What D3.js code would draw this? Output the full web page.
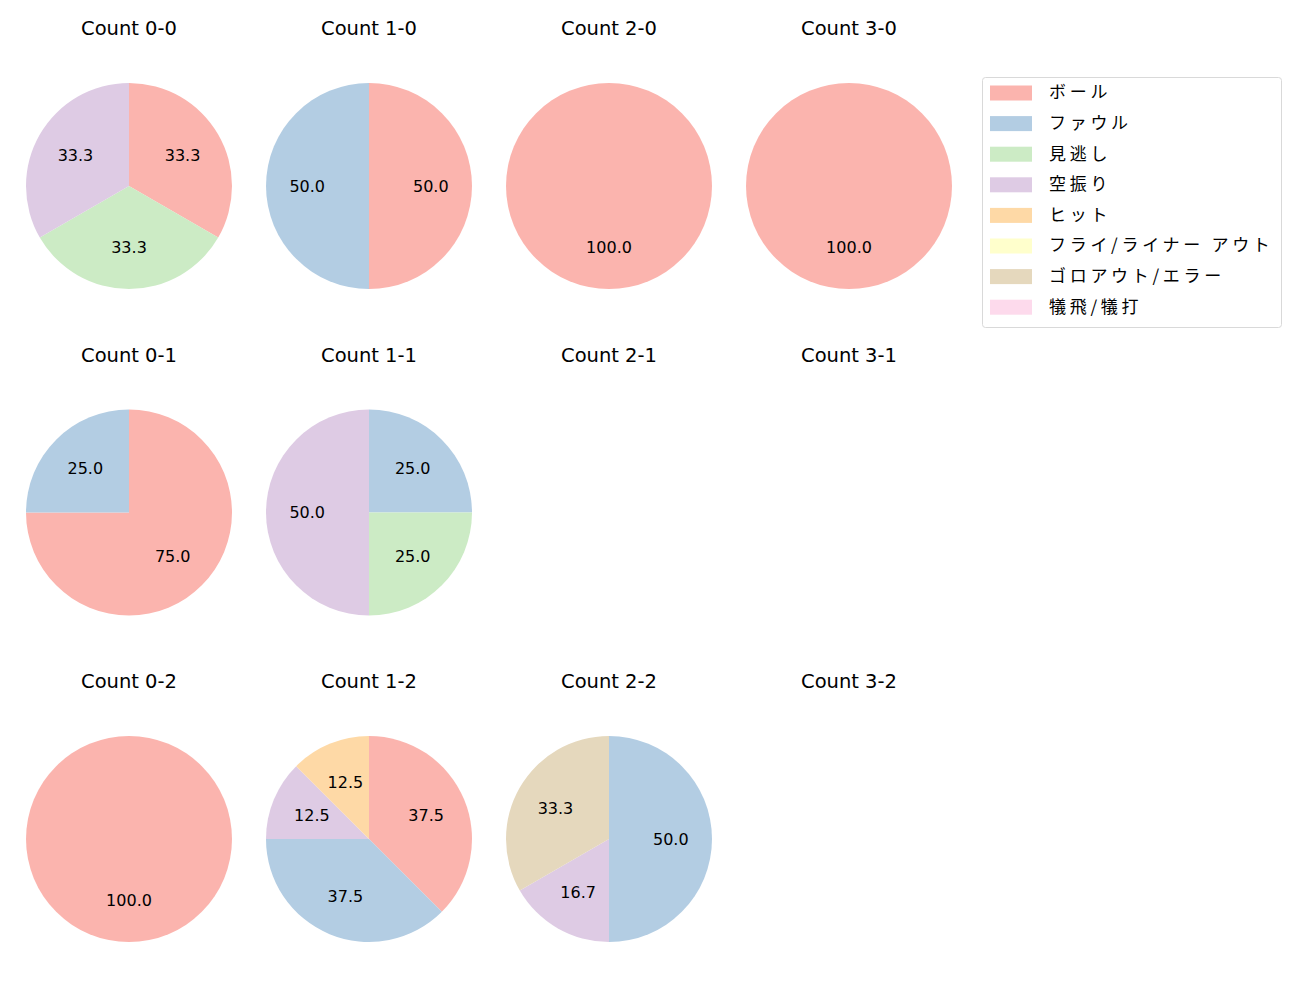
<!DOCTYPE html>
<html lang="ja">
<head>
<meta charset="utf-8">
<title>Count pies</title>
<style>
  body { margin: 0; background: #fff; }
  text { font-family: "DejaVu Sans", "Noto Sans CJK JP", sans-serif; fill: #000; }
  .legend-label { font-family: "Noto Sans CJK JP", sans-serif; letter-spacing: 3.7px; }
</style>
</head>
<body>
<div id="chart"></div>
<script src="https://d3js.org/d3.v7.min.js"></script>
<script>
var width = 1300,
    height = 1000;

// categories (legend order)
var categories = ["ボール", "ファウル", "見逃し", "空振り", "ヒット", "フライ/ライナー アウト", "ゴロアウト/エラー", "犠飛/犠打"];
var colors = ["#fbb4ae", "#b3cde3", "#ccebc5", "#decbe4", "#fed9a6", "#ffffcc", "#e5d8bd", "#fddaec"];

// counts per ball-strike situation, in category order
var balls = [0, 1, 2, 3];
var strikes = [0, 1, 2];
var count_0_0 = [1, 0, 1, 1, 0, 0, 0, 0];
var count_1_0 = [1, 1, 0, 0, 0, 0, 0, 0];
var count_2_0 = [1, 0, 0, 0, 0, 0, 0, 0];
var count_3_0 = [1, 0, 0, 0, 0, 0, 0, 0];
var count_0_1 = [3, 1, 0, 0, 0, 0, 0, 0];
var count_1_1 = [0, 1, 1, 2, 0, 0, 0, 0];
var count_2_1 = [0, 0, 0, 0, 0, 0, 0, 0];
var count_3_1 = [0, 0, 0, 0, 0, 0, 0, 0];
var count_0_2 = [1, 0, 0, 0, 0, 0, 0, 0];
var count_1_2 = [3, 3, 0, 1, 1, 0, 0, 0];
var count_2_2 = [0, 3, 0, 1, 0, 0, 2, 0];
var count_3_2 = [0, 0, 0, 0, 0, 0, 0, 0];

var counts = {
  "0-0": count_0_0, "1-0": count_1_0, "2-0": count_2_0, "3-0": count_3_0,
  "0-1": count_0_1, "1-1": count_1_1, "2-1": count_2_1, "3-1": count_3_1,
  "0-2": count_0_2, "1-2": count_1_2, "2-2": count_2_2, "3-2": count_3_2
};

var svg = d3.select("#chart").append("svg")
    .attr("width", width)
    .attr("height", height);

var radius = 103;
var colX = d3.scalePoint().domain(balls).range([129, 849]);
var rowY = d3.scalePoint().domain(strikes).range([186, 839]);

var pie = d3.pie()
    .sort(null)
    .value(function(d) { return d.value; })
    .startAngle(0)
    .endAngle(2 * Math.PI);

var arc = d3.arc().innerRadius(0).outerRadius(radius);
var labelArc = d3.arc().innerRadius(radius * 0.6).outerRadius(radius * 0.6);

strikes.forEach(function(s) {
  balls.forEach(function(b) {
    var key = b + "-" + s;
    var vals = counts[key];
    var g = svg.append("g")
        .attr("transform", "translate(" + colX(b) + "," + rowY(s) + ")");

    g.append("text")
        .attr("x", 0)
        .attr("y", -151)
        .attr("text-anchor", "middle")
        .style("font-size", "19.5px")
        .text("Count " + key);

    var total = d3.sum(vals);
    if (total === 0) return;

    var data = vals.map(function(v, i) { return { value: v, i: i }; })
        .filter(function(d) { return d.value > 0; });
    var arcs = pie(data);

    g.selectAll("path.slice")
      .data(arcs)
      .enter().append("path")
        .attr("class", "slice")
        .attr("d", arc)
        .attr("fill", function(d) { return colors[d.data.i]; });

    g.selectAll("text.pct")
      .data(arcs)
      .enter().append("text")
        .attr("class", "pct")
        .attr("transform", function(d) {
          var c = labelArc.centroid(d);
          return "translate(" + c[0] + "," + c[1] + ")";
        })
        .attr("text-anchor", "middle")
        .attr("dy", "0.35em")
        .style("font-size", "16px")
        .text(function(d) { return d3.format(".1f")(d.data.value / total * 100); });
  });
});

// legend
var legend = svg.append("g").attr("transform", "translate(982,77)");
legend.append("rect")
    .attr("x", 0.5).attr("y", 0.5)
    .attr("width", 299).attr("height", 250)
    .attr("rx", 3)
    .attr("fill", "#fff")
    .attr("stroke", "#d9d9d9");

var rowH = 30.6;
var items = legend.selectAll("g.item")
  .data(categories)
  .enter().append("g")
    .attr("class", "item")
    .attr("transform", function(d, i) { return "translate(0," + (15.5 + i * rowH) + ")"; });

items.append("rect")
    .attr("x", 8).attr("y", -7)
    .attr("width", 42).attr("height", 15)
    .attr("fill", function(d, i) { return colors[i]; });

items.append("text")
    .attr("class", "legend-label")
    .attr("x", 67)
    .attr("dy", "0.35em")
    .style("font-size", "17px")
    .text(function(d) { return d; });
</script>
</body>
</html>
